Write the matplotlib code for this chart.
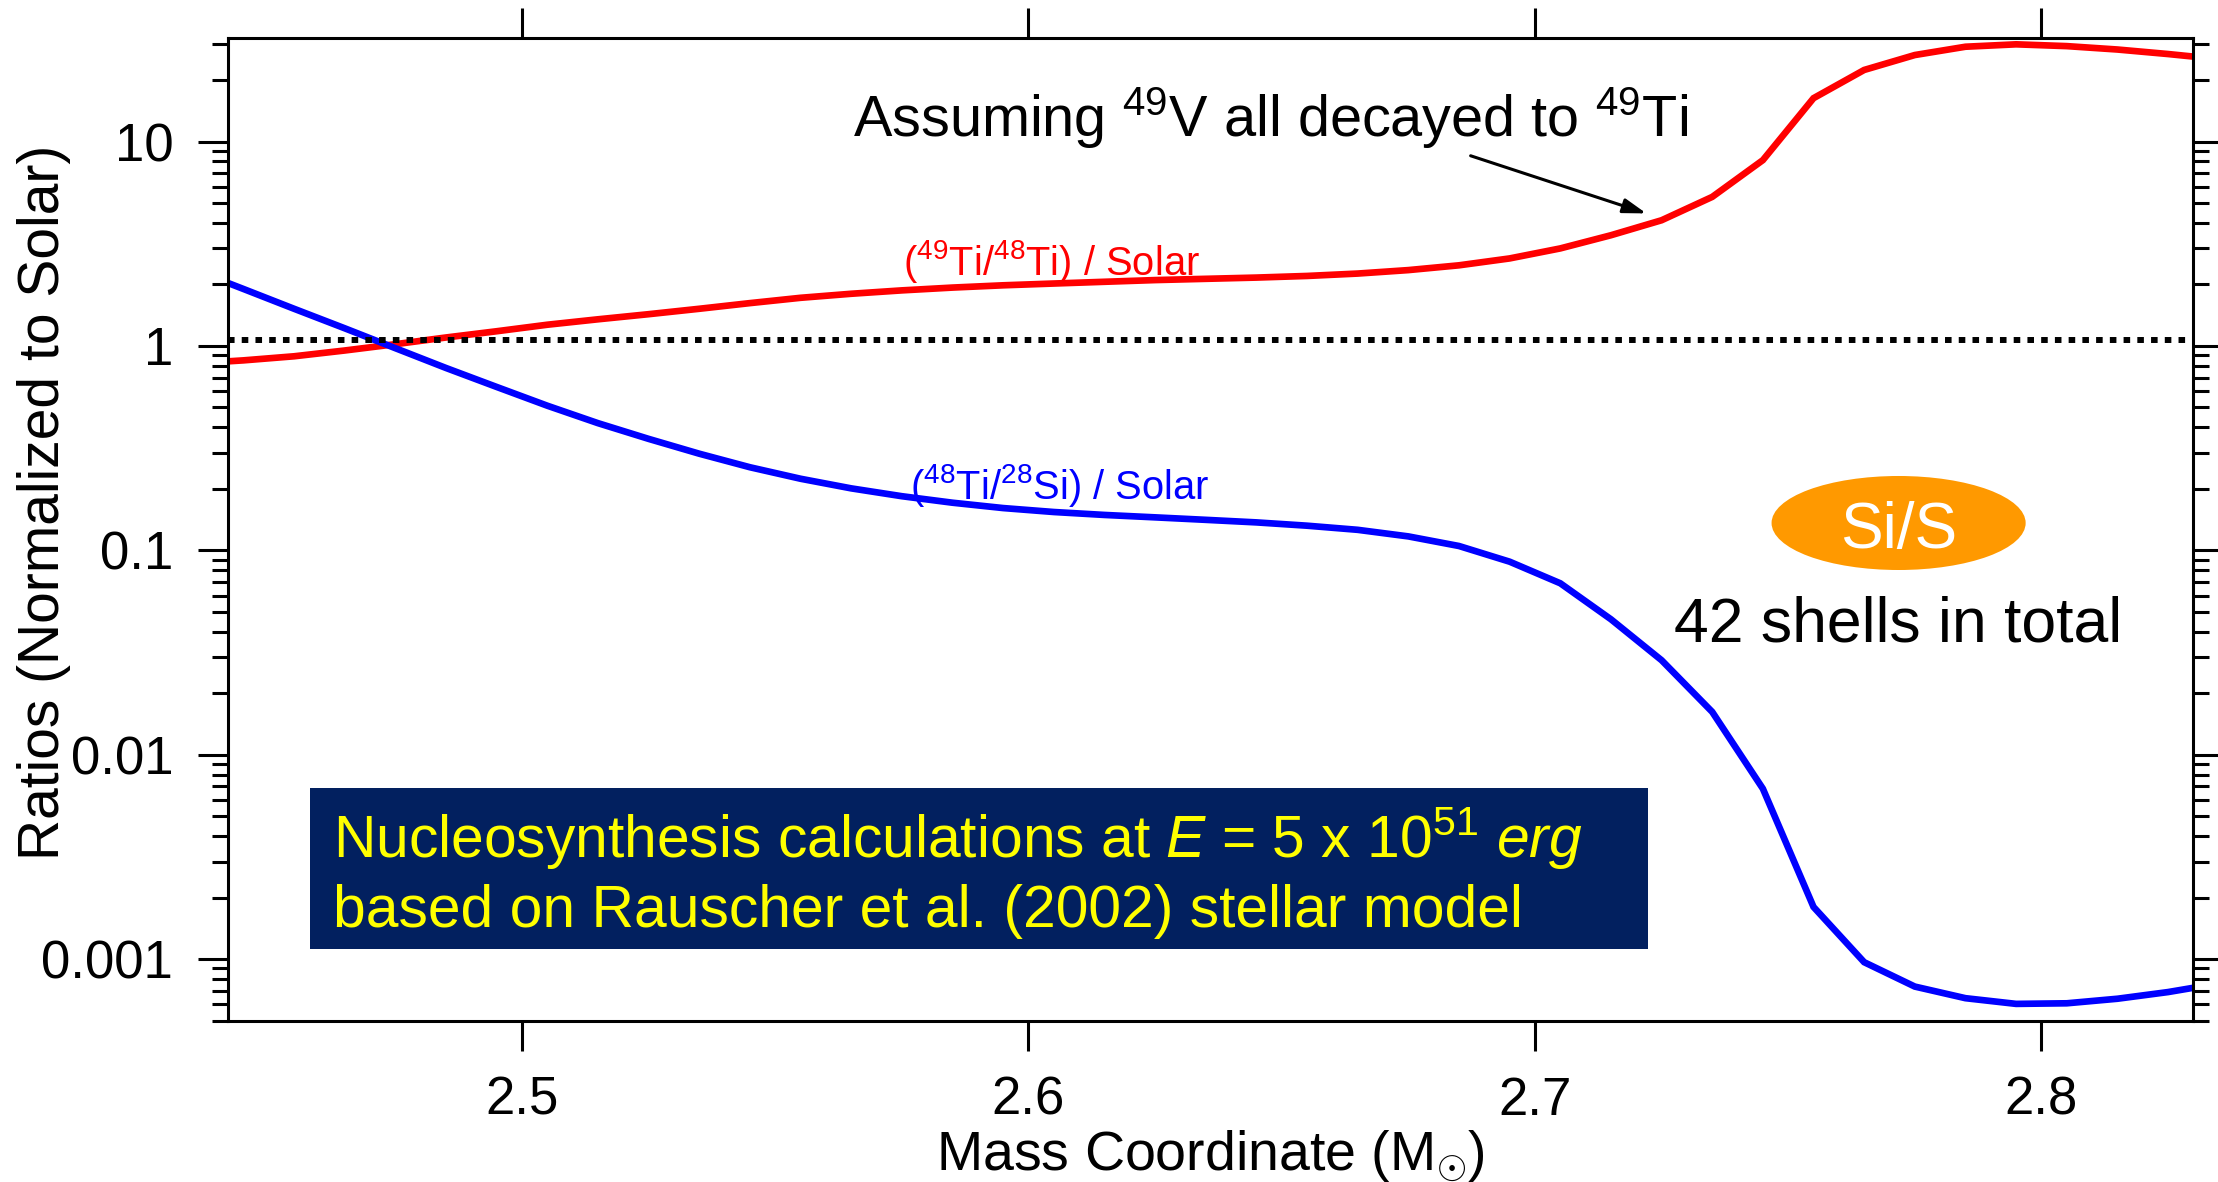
import numpy as np
import matplotlib
matplotlib.use("Agg")
import matplotlib.pyplot as plt
from matplotlib.patches import Rectangle, Ellipse
from matplotlib.ticker import FixedLocator, LogLocator, FuncFormatter, NullLocator

# Fonts: Arial-like text, mathtext for super/subscripts
plt.rcParams['font.family'] = ['Liberation Sans', 'DejaVu Sans']
plt.rcParams['mathtext.fontset'] = 'custom'
plt.rcParams['mathtext.rm'] = 'Liberation Sans'
plt.rcParams['mathtext.it'] = 'Liberation Sans:italic'
plt.rcParams['mathtext.bf'] = 'Liberation Sans:bold'

# Shell mass coordinates (M_sun)
mass = [2.435, 2.445, 2.455, 2.465, 2.475, 2.485, 2.495, 2.505, 2.515, 2.525,
        2.535, 2.545, 2.555, 2.565, 2.575, 2.585, 2.595, 2.605, 2.615, 2.625,
        2.635, 2.645, 2.655, 2.665, 2.675, 2.685, 2.695, 2.705, 2.715, 2.725,
        2.735, 2.745, 2.755, 2.765, 2.775, 2.785, 2.795, 2.805, 2.815, 2.825,
        2.835]

# (49Ti/48Ti)/Solar
ti49_ti48 = [0.82, 0.85, 0.89, 0.95, 1.02, 1.10, 1.18, 1.27, 1.35, 1.43,
             1.52, 1.62, 1.72, 1.80, 1.87, 1.93, 1.98, 2.02, 2.06, 2.10,
             2.13, 2.16, 2.20, 2.26, 2.35, 2.48, 2.68, 3.00, 3.48, 4.12,
             5.36, 8.11, 16.3, 22.4, 26.5, 29.1, 29.9, 29.3, 28.2, 26.8,
             25.3]

# (48Ti/28Si)/Solar
ti48_si28 = [2.37, 1.90, 1.52, 1.22, 0.975, 0.78, 0.63, 0.51, 0.419, 0.351,
             0.297, 0.255, 0.224, 0.201, 0.184, 0.171, 0.161, 0.154, 0.149, 0.145,
             0.141, 0.137, 0.132, 0.126, 0.117, 0.105, 0.088, 0.069, 0.046, 0.029,
             0.0162, 0.00682, 0.00180, 0.000966, 0.000734, 0.000644, 0.000604,
             0.000608, 0.000640, 0.000690, 0.000760]

solar_line = 1.07
x_ticks = [2.5, 2.6, 2.7, 2.8]
y_ticks = [0.001, 0.01, 0.1, 1, 10]

fig = plt.figure(figsize=(22.18, 11.82), dpi=100)
ax = fig.add_axes([0.1029, 0.1365, 0.886, 0.8311])

ax.set_yscale('log')
ax.plot(mass, ti49_ti48, color='#ff0000', lw=4.8, solid_joinstyle='miter')
ax.plot(mass, ti48_si28, color='#0000ff', lw=4.8, solid_joinstyle='miter')
ax.axhline(solar_line, color='black', lw=4.3, linestyle=(0, (1.1, 1.2)))

ax.set_xlim(2.442, 2.830)
ax.set_ylim(5e-4, 32)

# axes and ticks
for side in ax.spines.values():
    side.set_linewidth(2.2)
ax.xaxis.set_major_locator(FixedLocator(x_ticks))
ax.xaxis.set_minor_locator(NullLocator())
ax.yaxis.set_major_locator(FixedLocator(y_ticks))
ax.yaxis.set_minor_locator(LogLocator(base=10, subs=np.arange(2, 10), numticks=20))
ax.yaxis.set_major_formatter(FuncFormatter(lambda v, p: f"{v:g}"))
ax.xaxis.set_major_formatter(FuncFormatter(lambda v, p: f"{v:g}"))
ax.tick_params(axis='both', which='major', direction='out', length=21.6, width=2.2,
               labelsize=38, top=True, right=True)
ax.tick_params(axis='y', which='major', pad=18)
ax.tick_params(axis='x', which='major', pad=18)
ax.tick_params(axis='y', which='minor', direction='out', length=11.3, width=2.2,
               left=True, right=True)

ax.set_xlabel(r"Mass Coordinate (M$_{\odot}$)", fontsize=40, labelpad=2)
ax.set_ylabel("Ratios (Normalized to Solar)", fontsize=41)
ax.yaxis.set_label_coords(-0.08, 0.528)

# curve labels
ax.text(2.5753, 2.22, r"($^{49}$Ti/$^{48}$Ti) / Solar", color='#ff0000',
        fontsize=28.7, ha='left', va='baseline')
ax.text(2.5767, 0.179, r"($^{48}$Ti/$^{28}$Si) / Solar", color='#0000ff',
        fontsize=28.7, ha='left', va='baseline')

# decay annotation
ax.text(2.5654, 10.5, r"Assuming $^{49}$V all decayed to $^{49}$Ti", color='black',
        fontsize=41.5, ha='left', va='baseline')
ax.annotate('', xy=(2.722, 4.45), xytext=(2.6873, 8.52),
            arrowprops=dict(arrowstyle='-|>,head_length=0.7,head_width=0.22',
                            color='black', lw=2.2, shrinkA=0, shrinkB=0,
                            mutation_scale=20))

# zone marker
ax.add_patch(Ellipse((0.850, 0.5066), 0.1293, 0.0957, transform=ax.transAxes,
                     facecolor='#ff9900', edgecolor='none', zorder=5))
ax.text(0.850, 0.4809, "Si/S", transform=ax.transAxes, color='white',
        fontsize=46, ha='center', va='baseline', zorder=6)
ax.text(0.8498, 0.3858, "42 shells in total", transform=ax.transAxes, color='black',
        fontsize=45, ha='center', va='baseline')

# model box
ax.add_patch(Rectangle((0.0416, 0.0727), 0.6809, 0.1639, transform=ax.transAxes,
                       facecolor='#02205f', edgecolor='none', zorder=5))
ax.text(0.0534, 0.1653,
        r"Nucleosynthesis calculations at $\mathit{E}$ = 5 x 10$^{51}$ $\mathit{erg}$",
        transform=ax.transAxes, color='#ffff00', fontsize=42.3, ha='left',
        va='baseline', zorder=6)
ax.text(0.0534, 0.0957, "based on Rauscher et al. (2002) stellar model",
        transform=ax.transAxes, color='#ffff00', fontsize=42.3, ha='left',
        va='baseline', zorder=6)

fig.savefig("out.png", dpi=100)
